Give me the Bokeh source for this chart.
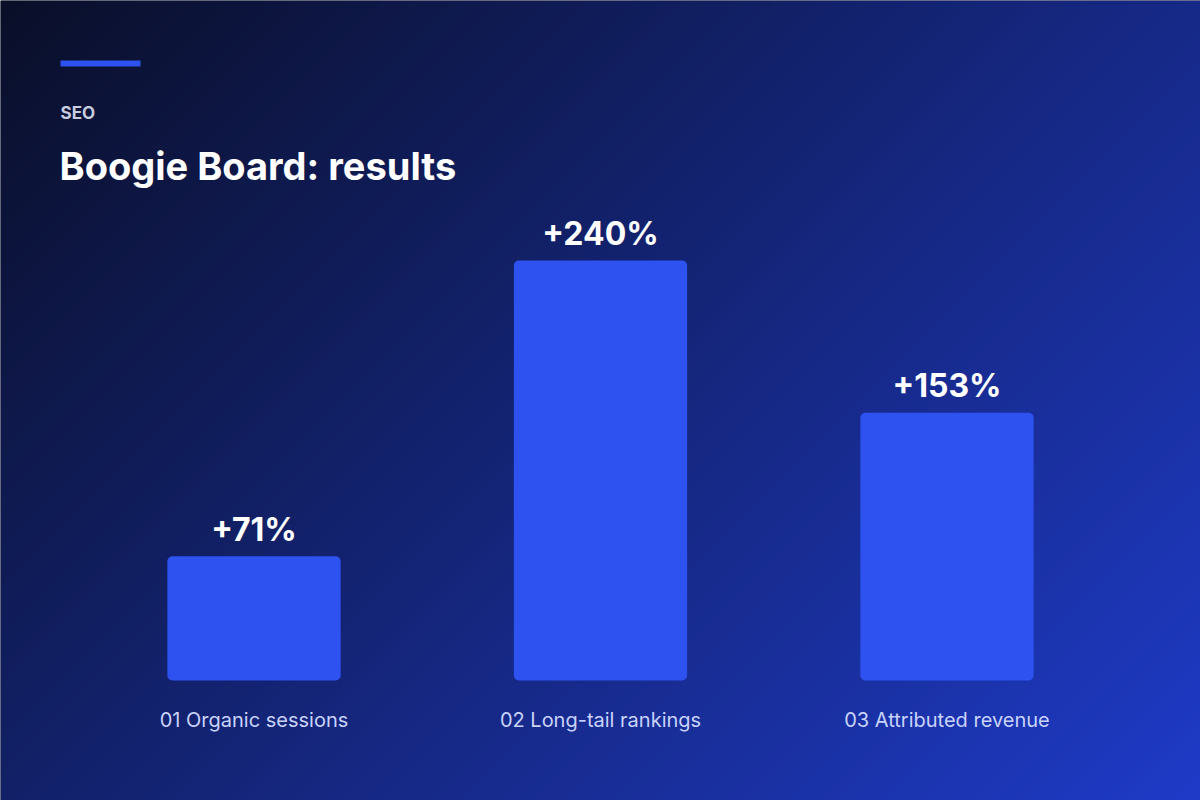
import numpy as np
from bokeh.plotting import figure
from bokeh.models import ColumnDataSource, Range1d, Label, BoxAnnotation
from bokeh.core.properties import value
from bokeh.embed import file_html
from bokeh.resources import INLINE

# ---- data ----
kicker = "SEO"
title = "Boogie Board: results"
categories = ["01 Organic sessions", "02 Long-tail rankings", "03 Attributed revenue"]
values = [71, 240, 153]
value_labels = ["+71%", "+240%", "+153%"]

W, H = 1200, 800
BAR_COLOR = "#2d52ef"
px_per_unit = 1.75          # vertical scale
baseline_px = 680           # zero line, from top
slot_px = 346.5             # distance between bar centres
first_center_px = 253.5

x_start = -first_center_px / slot_px
x_end = x_start + W / slot_px
y_start = -(H - baseline_px) / px_per_unit
y_end = baseline_px / px_per_unit

p = figure(width=W, height=H, output_backend="svg", toolbar_location=None,
           x_range=Range1d(x_start, x_end), y_range=Range1d(y_start, y_end),
           x_axis_type=None, y_axis_type=None, min_border=0,
           background_fill_color="#0a0f28", border_fill_color="#0a0f28")
p.outline_line_color = None

# ---- background gradient (135deg, dark navy -> blue) ----
gh, gw = 200, 300
c0 = np.array([10, 15, 40], dtype=float)
c1 = np.array([31, 59, 200], dtype=float)
xs = (np.arange(gw) + 0.5) / gw * W
ys_top = (np.arange(gh) + 0.5) / gh * H
X, Yt = np.meshgrid(xs, ys_top)
t = (X + Yt) / (W + H)
rgb = c0[None, None, :] + (c1 - c0)[None, None, :] * t[..., None]
img = np.empty((gh, gw), dtype=np.uint32)
view = img.view(dtype=np.uint8).reshape((gh, gw, 4))
view[..., 0] = rgb[..., 0].astype(np.uint8)
view[..., 1] = rgb[..., 1].astype(np.uint8)
view[..., 2] = rgb[..., 2].astype(np.uint8)
view[..., 3] = 255
img = img[::-1]  # row 0 at bottom
p.image_rgba(image=[img], x=x_start, y=y_start, dw=x_end - x_start, dh=y_end - y_start)

# ---- bars ----
idx = list(range(len(categories)))
src = ColumnDataSource(dict(
    x=idx, top=values, cat=categories, lab=value_labels,
    lab_y=[v + 27 / px_per_unit for v in values],
    cat_y=[-39 / px_per_unit] * len(categories),
))
p.vbar(x="x", top="top", bottom=0, width=0.5, source=src,
       fill_color=BAR_COLOR, line_color=None, border_radius=5)

p.text(x="x", y="lab_y", text="lab", source=src, text_align="center",
       text_baseline="alphabetic", text_color="white",
       text_font=value("Inter"), text_font_style="bold", text_font_size="32px")

p.text(x="x", y="cat_y", text="cat", source=src, text_align="center",
       text_baseline="alphabetic", text_color="#c9d3fb",
       text_font=value("Inter"), text_font_size="20px")

# ---- header ----
p.add_layout(BoxAnnotation(left=60, right=140, top=H - 60, bottom=H - 66,
                           left_units="screen", right_units="screen",
                           top_units="screen", bottom_units="screen",
                           fill_color=BAR_COLOR, fill_alpha=1, line_color=None))
p.add_layout(Label(x=60, y=H - 112, x_units="screen", y_units="screen", text=kicker,
                   text_font="Inter", text_font_style="bold", text_font_size="17px",
                   text_color="#c9cde0", text_baseline="alphabetic"))
p.add_layout(Label(x=59, y=H - 165, x_units="screen", y_units="screen", text=title,
                   text_font="Inter", text_font_style="bold", text_font_size="38px",
                   text_color="white", text_baseline="alphabetic"))

open("out.html", "w").write(file_html(p, INLINE))
